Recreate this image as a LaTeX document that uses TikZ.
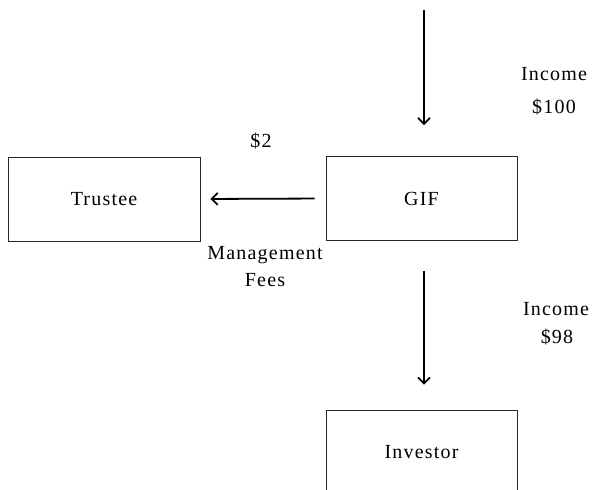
\documentclass[tikz,border=0pt]{standalone}
\usepackage{fontspec}
\setmainfont{Liberation Serif}[LetterSpace=6]
\usepackage{tikz}
\usetikzlibrary{positioning,arrows.meta,calc}
\tikzset{
  party/.style={draw=black!85,line width=0.9pt,minimum width=191pt,minimum height=84pt,
    inner sep=0pt,font=\fontsize{20}{22}\selectfont},
  flow/.style={-{Straight Barb[length=6pt,width=12pt]},line width=1.8pt},
  lbl/.style={font=\fontsize{20}{22}\selectfont,anchor=base,inner sep=0pt},
}

\begin{document}
\begin{tikzpicture}[x=1pt,y=-1pt]
  \useasboundingbox (0,0) rectangle (595,490);
  \node[party] (gif) at (421.5,198.5) {GIF};
  \node[party,minimum width=192pt] (trustee) at (104,199) {Trustee};
  \node[party] (inv) at (421.5,452) {Investor};
  \coordinate (src) at (424,10);
  % income in, fees out, income on to investor
  \draw[flow,shorten >=31pt] (src) -- (src |- gif.north);
  \draw[flow,shorten <=11pt,shorten >=10pt] (gif.west) -- (trustee.east);
  \draw[flow,shorten <=30pt,shorten >=25pt] ([xshift=2.5pt]gif.south) -- ([xshift=2.5pt]inv.north);
  \node[lbl] (in1) at (554,80) {Income};
  \node[lbl] (in1v) at (554,113) {\$100};
  \node[lbl] (fee) at (261,147) {\$2};
  \node[lbl] (fee1) at (265,259) {Management};
  \node[lbl] (fee2) at (265,286) {Fees};
  \node[lbl] (in2) at (556,315) {Income};
  \node[lbl] (in2v) at (557,343) {\$98};
\end{tikzpicture}
\end{document}
